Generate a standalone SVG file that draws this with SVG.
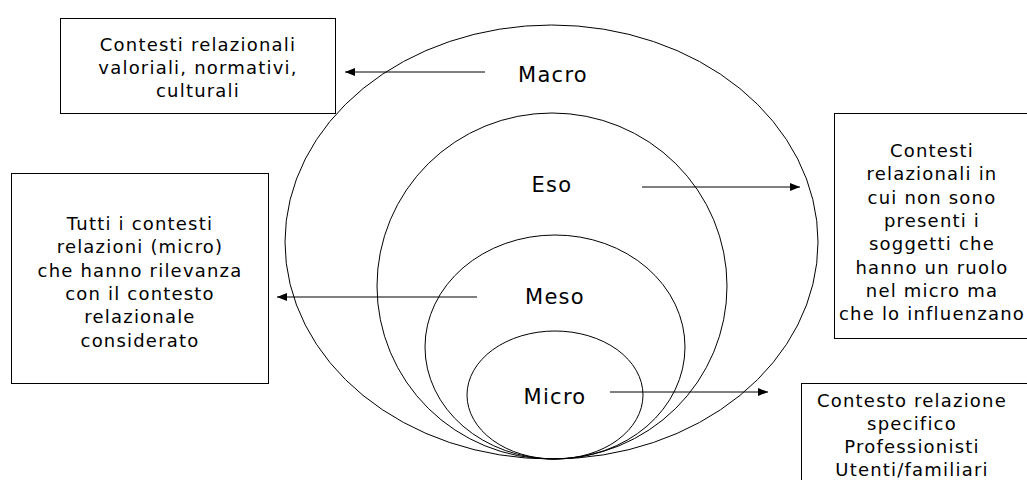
<svg xmlns="http://www.w3.org/2000/svg" width="1027" height="480" viewBox="0 0 1027 480">
  <style>
    .ring { fill: none; stroke: #000; stroke-width: 1; }
    .box { fill: #fff; stroke: #000; stroke-width: 1; }
    .lbl { font-family: "DejaVu Sans", Verdana, sans-serif; font-size: 21px; letter-spacing: 1.3px; fill: #000; text-anchor: middle; }
    .txt { font-family: "DejaVu Sans", Verdana, sans-serif; font-size: 18px; letter-spacing: 1.2px; fill: #000; text-anchor: middle; }
    .arr { stroke: #000; stroke-width: 1; fill: none; marker-end: url(#ah); }
  </style>
  <defs>
    <marker id="ah" viewBox="0 0 10 8" refX="10" refY="4" markerWidth="10" markerHeight="8" markerUnits="userSpaceOnUse" orient="auto">
      <path d="M0,0 L10,4 L0,8 Z" fill="#000"/>
    </marker>
  </defs>
  <rect width="1027" height="480" fill="#fff"/>

  <g id="rings">
    <ellipse id="ring-macro" class="ring" cx="551.5" cy="242" rx="266.5" ry="217"/>
    <ellipse id="ring-eso" class="ring" cx="552" cy="286" rx="175" ry="173"/>
    <ellipse id="ring-meso" class="ring" cx="555" cy="347" rx="130" ry="112"/>
    <ellipse id="ring-micro" class="ring" cx="555" cy="395" rx="88" ry="64"/>
  </g>

  <g id="labels">
    <text class="lbl" x="553" y="82">Macro</text>
    <text class="lbl" x="552" y="192">Eso</text>
    <text class="lbl" x="555" y="304">Meso</text>
    <text class="lbl" x="555" y="404">Micro</text>
  </g>

  <g id="connectors">
    <line class="arr" x1="485" y1="72" x2="345" y2="72"/>
    <line class="arr" x1="642" y1="187" x2="800" y2="187"/>
    <line class="arr" x1="477" y1="297" x2="277" y2="297"/>
    <line class="arr" x1="610" y1="392" x2="768" y2="392"/>
  </g>

  <g id="box-macro">
    <rect class="box" x="60.5" y="18.5" width="275" height="95"/>
    <text class="txt" x="198" y="51">Contesti relazionali</text>
    <text class="txt" x="198" y="74">valoriali, normativi,</text>
    <text class="txt" x="198" y="97">culturali</text>
  </g>

  <g id="box-meso">
    <rect class="box" x="11.5" y="173.5" width="257" height="210"/>
    <text class="txt" x="140" y="230">Tutti i contesti</text>
    <text class="txt" x="140" y="253.3">relazioni (micro)</text>
    <text class="txt" x="140" y="276.6">che hanno rilevanza</text>
    <text class="txt" x="140" y="299.9">con il contesto</text>
    <text class="txt" x="140" y="323.2">relazionale</text>
    <text class="txt" x="140" y="346.5">considerato</text>
  </g>

  <g id="box-eso">
    <rect class="box" x="834.5" y="113.5" width="200" height="225"/>
    <text class="txt" x="932" y="157">Contesti</text>
    <text class="txt" x="932" y="180.3">relazionali in</text>
    <text class="txt" x="932" y="203.6">cui non sono</text>
    <text class="txt" x="932" y="226.9">presenti i</text>
    <text class="txt" x="932" y="250.2">soggetti che</text>
    <text class="txt" x="932" y="273.5">hanno un ruolo</text>
    <text class="txt" x="932" y="296.8">nel micro ma</text>
    <text class="txt" x="932" y="320.1">che lo influenzano</text>
  </g>

  <g id="box-micro">
    <rect class="box" x="801.5" y="383.5" width="230" height="110"/>
    <text class="txt" x="912" y="407">Contesto relazione</text>
    <text class="txt" x="912" y="430">specifico</text>
    <text class="txt" x="912" y="453">Professionisti</text>
    <text class="txt" x="912" y="476">Utenti/familiari</text>
  </g>
</svg>
